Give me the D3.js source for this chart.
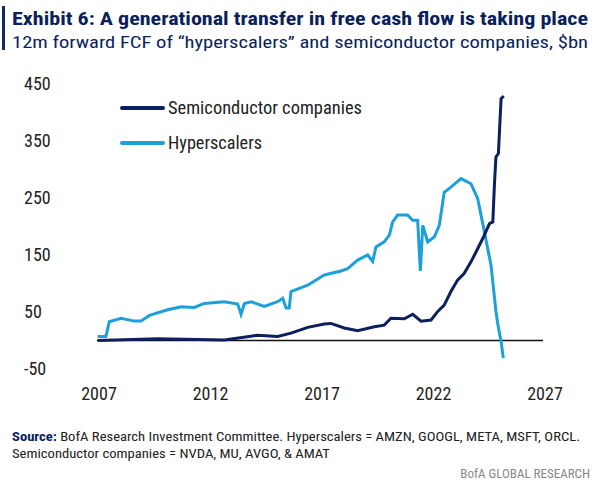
<!DOCTYPE html><html><head><meta charset="utf-8"><script src="https://cdn.jsdelivr.net/npm/d3@7"></script>
<style>body{margin:0;background:#fff}text{font-family:"Liberation Sans Narrow","Roboto Condensed","Liberation Sans",sans-serif}</style></head><body><svg id="c" width="602" height="492"></svg>
<script>
const hypYears=[2006.94,2007.31,2007.46,2007.99,2008.58,2008.88,2009.26,2010.08,2010.68,2011.27,2011.72,2012.62,2013.22,2013.37,2013.52,2013.82,2014.41,2015.01,2015.24,2015.39,2015.53,2015.61,2016.36,2017.10,2017.85,2018.15,2018.60,2019.05,2019.27,2019.42,2019.79,2020.02,2020.17,2020.39,2020.84,2021.07,2021.29,2021.41,2021.52,2021.74,2022.04,2022.26,2022.48,2022.78,2023.23,2023.68,2023.98,2024.28,2024.58,2024.80,2024.88,2025.03,2025.13];
const hypVals=[7,7,33,39,34,34,44,54,59,58,65,68,64,46,65,68,60,68,74,57,57,86,97,115,122,126,141,150,139,164,173,185,208,220,220,211,211,122,202,173,182,202,260,269,284,275,249,191,132,51,30,-2,-31];
const semiYears=[2006.94,2009.63,2012.62,2014.11,2015.01,2015.61,2016.36,2017.10,2017.40,2018.00,2018.60,2019.35,2019.79,2020.09,2020.69,2021.07,2021.44,2021.89,2022.19,2022.48,2022.78,2023.08,2023.38,2023.68,2023.98,2024.28,2024.51,2024.66,2024.73,2024.80,2024.91,2025.03,2025.15];
const semiVals=[0,3,1,9,7,13,23,29,30,22,17,24,27,39,38,46,34,36,51,62,86,106,118,138,161,185,205,208,272,322,328,424,429];
const yTicks=[450,350,250,150,50,-50];
const xTicks=[2007,2012,2017,2022,2027];
const svg=d3.select("#c");
const x=d3.scaleLinear().domain([2007,2027]).range([99,545]);
const y=d3.scaleLinear().domain([-50,450]).range([369,84]);
function T(xx,yy,s,t,o={}){const e=svg.append("text").attr("x",xx).attr("y",yy).attr("font-size",s).attr("fill",o.fill||"#222");
 if(o.bold)e.attr("font-weight","bold"); if(o.anchor)e.attr("text-anchor",o.anchor); if(o.len)e.attr("textLength",o.len).attr("lengthAdjust","spacingAndGlyphs");
 if(o.html)e.html(t);else e.text(t);return e;}
svg.append("rect").attr("x",2).attr("y",6).attr("width",3).attr("height",44).attr("fill","#0a2a6b");
T(12,25,18,"Exhibit 6: A generational transfer in free cash flow is taking place",{bold:1,fill:"#0a1f5c",len:576});
T(12,48,17,"12m forward FCF of \u201chyperscalers\u201d and semiconductor companies, $bn",{fill:"#0a1f5c",len:576});
yTicks.forEach(t=>T(24,y(t)+6,18,t));
xTicks.forEach(t=>T(x(t),400,18,t,{anchor:"middle"}));
svg.append("line").attr("x1",97).attr("x2",543).attr("y1",y(0)).attr("y2",y(0)).attr("stroke","#111").attr("stroke-width",1.5);
const line=d3.line().x(d=>x(d[0])).y(d=>y(d[1]));
svg.append("path").datum(hypYears.map((v,i)=>[v,hypVals[i]])).attr("d",line).attr("fill","none").attr("stroke","#1ba0dc").attr("stroke-width",3);
svg.append("path").datum(semiYears.map((v,i)=>[v,semiVals[i]])).attr("d",line).attr("fill","none").attr("stroke","#0c1f5e").attr("stroke-width",3);
[["Semiconductor companies","#0c1f5e",108,194],["Hyperscalers","#1ba0dc",143,94]].forEach(([t,c,yy,l])=>{
 svg.append("line").attr("x1",122).attr("x2",163).attr("y1",yy).attr("y2",yy).attr("stroke",c).attr("stroke-width",4).attr("stroke-linecap","round");
 T(168,yy+6,18,t,{len:l});});
T(12,441,13,'<tspan font-weight="bold" fill="#0a1f5c">Source:</tspan> BofA Research Investment Committee. Hyperscalers = AMZN, GOOGL, META, MSFT, ORCL.',{html:1,len:568});
T(12,458,13,"Semiconductor companies = NVDA, MU, AVGO, & AMAT",{len:318});
T(590,478,13,"BofA GLOBAL RESEARCH",{anchor:"end",fill:"#888"});
</script></body></html>
